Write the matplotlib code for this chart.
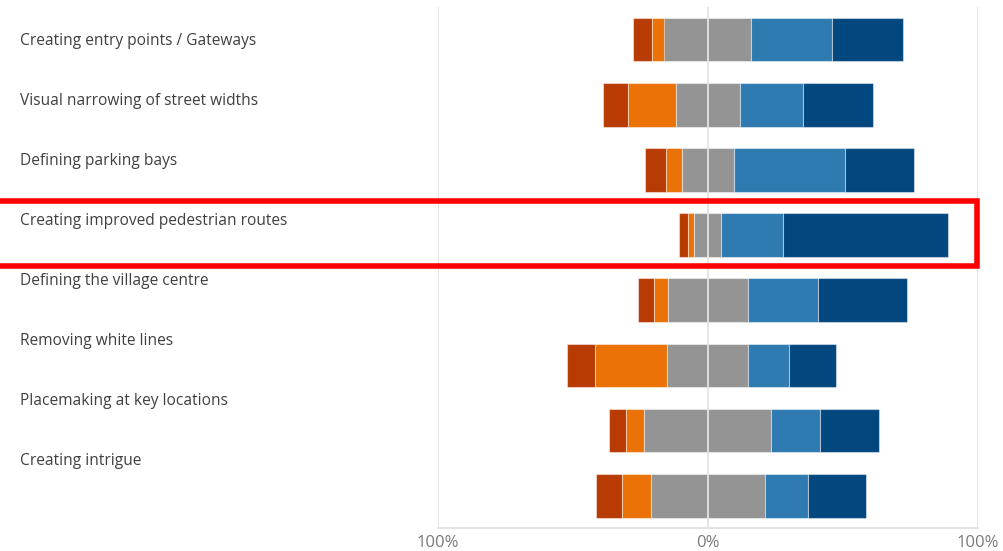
import numpy as np
import matplotlib.pyplot as plt
from matplotlib.patches import Rectangle
from matplotlib.transforms import blended_transform_factory

# survey statements (top to bottom)
categories = [
    "Creating entry points / Gateways",
    "Visual narrowing of street widths",
    "Defining parking bays",
    "Creating improved pedestrian routes",
    "Defining the village centre",
    "Removing white lines",
    "Placemaking at key locations",
    "Creating intrigue",
]

# response shares in %
strongly_disagree = [6.9, 9.2, 8.0, 3.4, 6.2, 10.3, 6.3, 9.7]
disagree = [4.7, 17.6, 5.8, 2.2, 4.9, 26.9, 6.7, 10.6]
neutral = [32.0, 23.7, 19.2, 10.1, 29.7, 29.9, 46.9, 42.1]
agree = [30.2, 23.3, 41.4, 22.7, 26.1, 15.3, 18.1, 16.2]
strongly_agree = [26.1, 26.0, 25.3, 61.2, 33.0, 17.1, 21.8, 21.2]

tick_values = [-100, 0, 100]
tick_labels = ["100%", "0%", "100%"]
highlight = 3

colors = ["#B83B03", "#EA7207", "#949494", "#2E7AB1", "#03477F"]


def main():
    fig = plt.figure(figsize=(10.04, 5.51), dpi=100)
    ax = fig.add_axes([437.7 / 1004, 1 - 528.3 / 551, 540 / 1004, 521.3 / 551])

    y = np.arange(len(categories))
    sd = np.array(strongly_disagree)
    d = np.array(disagree)
    n = np.array(neutral)
    a = np.array(agree)
    sa = np.array(strongly_agree)

    # diverging stack: neutral is centred on zero
    start = -n / 2 - d - sd
    segments = [sd, d, n, a, sa]
    left = start.copy()
    for vals, col in zip(segments, colors):
        ax.barh(y, vals, left=left, height=0.67, color=col,
                edgecolor=(1, 1, 1, 0.45), linewidth=0.8, zorder=2)
        left = left + vals

    # vertical grid lines
    for v in tick_values:
        ax.axvline(v, color="#e3e3e3", lw=1.3, zorder=3)

    ax.set_xlim(-100, 100)
    ax.set_ylim(len(categories) - 0.5, -0.5)
    ax.set_xticks(tick_values)
    ax.set_xticklabels(tick_labels, color="#7a7a7a", fontsize=12, family="Open Sans")
    ax.tick_params(axis="x", length=0, pad=5)
    ax.set_yticks([])
    for s in ["top", "left", "right"]:
        ax.spines[s].set_visible(False)
    ax.spines["bottom"].set_color("#e0e0e0")
    ax.spines["bottom"].set_linewidth(1.3)

    # labels sit at their own spacing, left of the plot
    for i, name in enumerate(categories):
        fig.text(20 / 1004, 1 - (45 + 60 * i) / 551, name, ha="left", va="baseline",
                 fontsize=11.2, color="#404040", family="Open Sans")

    # red highlight box
    trans = blended_transform_factory(fig.transFigure, ax.transData)
    box = Rectangle((-0.01, highlight - 0.528), 0.9836, 1.006, transform=trans,
                    fill=False, edgecolor="#FF0000", lw=4, clip_on=False, zorder=5)
    ax.add_patch(box)

    fig.savefig("out.png", dpi=100)


if __name__ == "__main__":
    main()
